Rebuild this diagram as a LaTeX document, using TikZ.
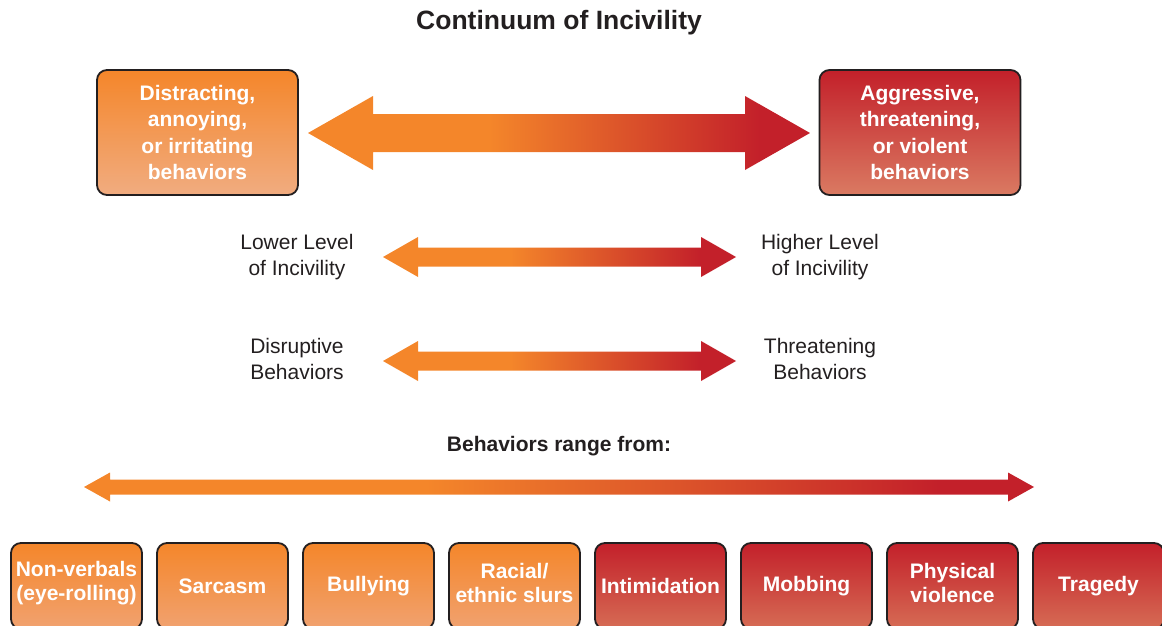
\documentclass[tikz,border=0pt]{standalone}
\usepackage{fontspec}
\setmainfont{Liberation Sans}
\definecolor{org}{HTML}{F4862A}
\definecolor{orgl}{HTML}{F1AC80}
\definecolor{orgm}{HTML}{F1A270}
\definecolor{rd}{HTML}{C3202A}
\definecolor{rdl}{HTML}{DA7A62}
\definecolor{rdm}{HTML}{D66C55}
\definecolor{edge}{HTML}{231F20}
\definecolor{txt}{HTML}{231F20}
\pgfdeclarehorizontalshading{incshade}{100bp}{color(0bp)=(org); color(43bp)=(org); color(70bp)=(rd); color(100bp)=(rd)}
\newcommand\incarrow[6]{%
  \shade[shading=incshade] (#1,#3) -- ({#1+#6},{#3-#5}) -- ({#1+#6},{#3-#4}) -- ({#2-#6},{#3-#4}) -- ({#2-#6},{#3-#5}) -- (#2,#3) -- ({#2-#6},{#3+#5}) -- ({#2-#6},{#3+#4}) -- ({#1+#6},{#3+#4}) -- ({#1+#6},{#3+#5}) -- cycle;}
\tikzset{
  box/.style={draw=edge, line width=1.8pt, rounded corners=10pt, align=center, text=white, inner sep=0pt},
  bigbox/.style={box, minimum width=201, minimum height=125, font=\fontsize{21}{26.3}\selectfont\bfseries},
  smallbox/.style={box, minimum width=131, minimum height=86},
  boxtext/.style={align=center, text=white, inner sep=0pt, font=\fontsize{21}{24}\selectfont\bfseries},
  lab/.style={align=center, text=txt, font=\fontsize{21}{26}\selectfont},
}
\begin{document}
\begin{tikzpicture}[x=1pt,y=-1pt]
\path[use as bounding box] (0,0) rectangle (1162,626);
\clip (0,0) rectangle (1162,626);
\node[text=txt, font=\fontsize{26.5}{30}\selectfont\bfseries] (title) at (559,23) {Continuum of Incivility};

\node[bigbox, top color=org, bottom color=orgl] (dist) at (197.5,132.5) {Distracting,\\annoying,\\or irritating\\behaviors};
\node[bigbox, top color=rd, bottom color=rdl] (aggr) at (920,132.5) {Aggressive,\\threatening,\\or violent\\behaviors};
\incarrow{308}{810}{133}{19}{37}{65}

\node[lab] (low) at (297,257) {Lower Level\\of Incivility};
\node[lab] (high) at (820,257) {Higher Level\\of Incivility};
\incarrow{383}{736}{257}{9.5}{20}{35}

\node[lab] (disr) at (297,359) {Disruptive\\Behaviors};
\node[lab] (thr) at (820,359) {Threatening\\Behaviors};
\incarrow{383}{736}{361}{9.5}{20}{35}

\node[text=txt, font=\fontsize{21}{24}\selectfont\bfseries] (range) at (559,446) {Behaviors range from:};
\incarrow{84}{1034}{487}{7.5}{14.5}{26}

\foreach \i/\t/\c/\cb/\dy in {0/{Non-verbals\\(eye-rolling)}/org/orgm/2.5, 1/Sarcasm/org/orgm/0, 2/Bullying/org/orgm/0, 3/{Racial/\\ethnic slurs}/org/orgm/3, 4/Intimidation/rd/rdm/0.5, 5/Mobbing/rd/rdm/0, 6/{Physical\\violence}/rd/rdm/3, 7/Tragedy/rd/rdm/0}{
  \node[smallbox, top color=\c, bottom color=\cb] (b\i) at ({76.5+146*\i},586) {};
  \node[boxtext] (t\i) at ([yshift=\dy pt]b\i.center) {\t};
}
\end{tikzpicture}
\end{document}
